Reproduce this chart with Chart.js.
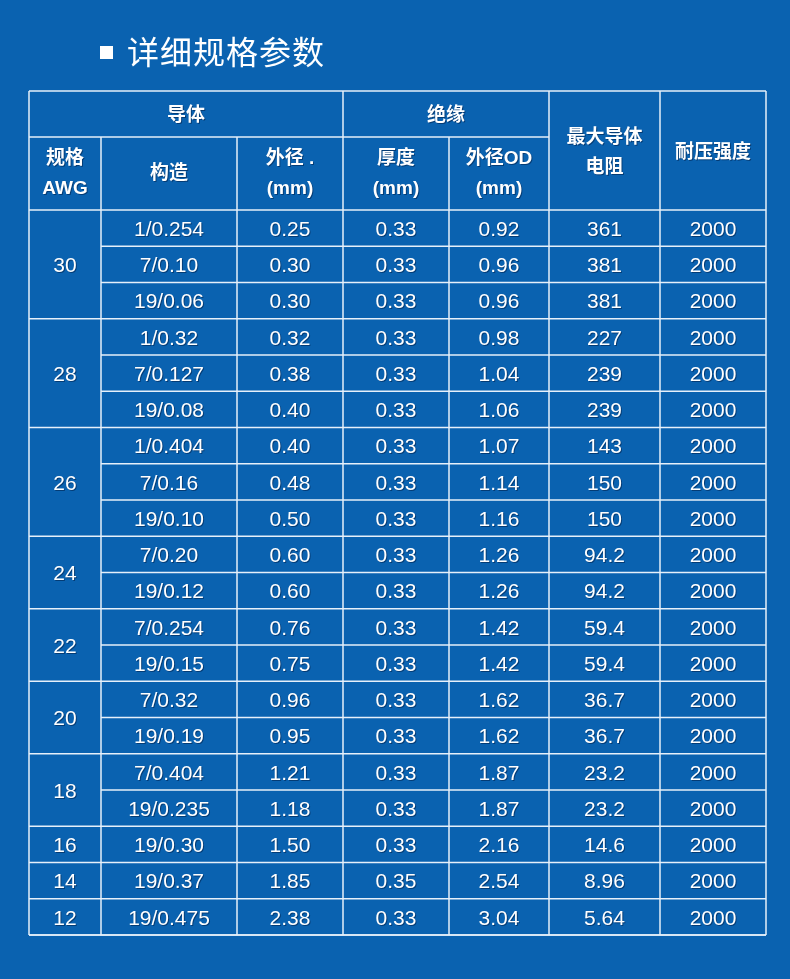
<!DOCTYPE html>
<html><head><meta charset="utf-8">
<script src="https://cdn.jsdelivr.net/npm/chart.js@4"></script>
<style>html,body{margin:0;padding:0;background:#0a62b0;}#wrap{width:790px;height:979px;position:relative}
#title{position:absolute;left:100px;top:27px;color:#fff;font:400 32px "Noto Sans CJK SC";letter-spacing:1px}
#title span{display:inline-block;width:13px;height:13px;background:#fff;margin-right:14px;vertical-align:middle;position:relative;top:-3px}
</style></head><body>
<div id="wrap"><div id="title"><span></span>详细规格参数</div><canvas id="c" width="790" height="979"></canvas></div>
<script>
const awgGroups = ['30','28','26','24','22','20','18','16','14','12'];
const awgSpans  = [3,3,3,2,2,2,2,1,1,1];
const construction = ['1/0.254','7/0.10','19/0.06','1/0.32','7/0.127','19/0.08','1/0.404','7/0.16','19/0.10','7/0.20','19/0.12','7/0.254','19/0.15','7/0.32','19/0.19','7/0.404','19/0.235','19/0.30','19/0.37','19/0.475'];
const conductorOD = ['0.25','0.30','0.30','0.32','0.38','0.40','0.40','0.48','0.50','0.60','0.60','0.76','0.75','0.96','0.95','1.21','1.18','1.50','1.85','2.38'];
const thickness = ['0.33','0.33','0.33','0.33','0.33','0.33','0.33','0.33','0.33','0.33','0.33','0.33','0.33','0.33','0.33','0.33','0.33','0.33','0.35','0.33'];
const insulationOD = ['0.92','0.96','0.96','0.98','1.04','1.06','1.07','1.14','1.16','1.26','1.26','1.42','1.42','1.62','1.62','1.87','1.87','2.16','2.54','3.04'];
const resistance = ['361','381','381','227','239','239','143','150','150','94.2','94.2','59.4','59.4','36.7','36.7','23.2','23.2','14.6','8.96','5.64'];
const voltage = ['2000','2000','2000','2000','2000','2000','2000','2000','2000','2000','2000','2000','2000','2000','2000','2000','2000','2000','2000','2000'];
const colWidths = [72,136,106,106,100,111,106];
const headerHeights = [46,73];
const rowHeight = 36.25;

const colEdges=[0];colWidths.forEach(w=>colEdges.push(colEdges[colEdges.length-1]+w));
const hdrEdges=[0];headerHeights.forEach(h=>hdrEdges.push(hdrEdges[hdrEdges.length-1]+h));
const dataTop=hdrEdges[2];
const totalH=dataTop+rowHeight*construction.length;

const tablePlugin={id:'table',afterDraw(chart){
  const ctx=chart.ctx,X=chart.scales.x,Y=chart.scales.y;
  const px=v=>X.getPixelForValue(v),py=v=>Y.getPixelForValue(v);
  const line=(x1,y1,x2,y2)=>{ctx.beginPath();ctx.moveTo(px(x1),py(y1));ctx.lineTo(px(x2),py(y2));ctx.stroke();};
  const text=(t,x1,x2,y1,y2,font,dy)=>{ctx.font=font;const lines=t.split('\n');const cx=(px(x1)+px(x2))/2,cy=(py(y1)+py(y2))/2+(dy||0);const lh=30;
    lines.forEach((l,i)=>{const yy=cy+(i-(lines.length-1)/2)*lh;ctx.fillStyle='rgba(0,30,70,0.55)';ctx.fillText(l,cx+1,yy+1);ctx.fillStyle='#fff';ctx.fillText(l,cx,yy);});};
  ctx.save();ctx.strokeStyle='#e6f0fa';ctx.lineWidth=1.5;
  const W=colEdges[7];
  line(0,0,W,0);line(0,totalH,W,totalH);line(0,0,0,totalH);line(W,0,W,totalH);
  line(0,hdrEdges[1],colEdges[5],hdrEdges[1]);
  line(0,dataTop,W,dataTop);
  [3,5,6].forEach(c=>line(colEdges[c],0,colEdges[c],totalH));
  [1,2,4].forEach(c=>line(colEdges[c],hdrEdges[1],colEdges[c],totalH));
  let r=0;awgSpans.forEach(s=>{for(let k=1;k<=s;k++){const y=dataTop+rowHeight*(r+k);line(k===s?0:colEdges[1],y,W,y);}r+=s;});
  ctx.textAlign='center';ctx.textBaseline='middle';
  const cjk='bold 19px "Noto Sans CJK SC"',num='21px "Liberation Sans", Arial';
  text('导体',0,colEdges[3],0,hdrEdges[1],cjk);
  text('绝缘',colEdges[3],colEdges[5],0,hdrEdges[1],cjk);
  text('最大导体\n电阻',colEdges[5],colEdges[6],0,dataTop,cjk);
  text('耐压强度',colEdges[6],colEdges[7],0,dataTop,cjk);
  const h2=['规格\nAWG','构造','外径 .\n(mm)','厚度\n(mm)','外径OD\n(mm)'];
  h2.forEach((h,i)=>text(h,colEdges[i],colEdges[i+1],hdrEdges[1],dataTop,'bold 19px "Liberation Sans", "Noto Sans CJK SC"'));
  r=0;awgGroups.forEach((g,i)=>{text(g,0,colEdges[1],dataTop+rowHeight*r,dataTop+rowHeight*(r+awgSpans[i]),num,2);r+=awgSpans[i];});
  const cols=[construction,conductorOD,thickness,insulationOD,resistance,voltage];
  construction.forEach((_,i)=>cols.forEach((col,c)=>text(col[i],colEdges[c+1],colEdges[c+2],dataTop+rowHeight*i,dataTop+rowHeight*(i+1),num,2)));
  ctx.restore();
}};
new Chart(document.getElementById('c'),{type:'scatter',data:{datasets:[{data:[]}]},
 options:{responsive:false,animation:false,events:[],layout:{padding:{left:29,top:91,right:24,bottom:44}},
  plugins:{legend:{display:false},tooltip:{enabled:false}},
  scales:{x:{type:'linear',min:0,max:colEdges[7],display:false},y:{type:'linear',min:0,max:totalH,reverse:true,display:false}}},
 plugins:[tablePlugin]});
</script></body></html>
